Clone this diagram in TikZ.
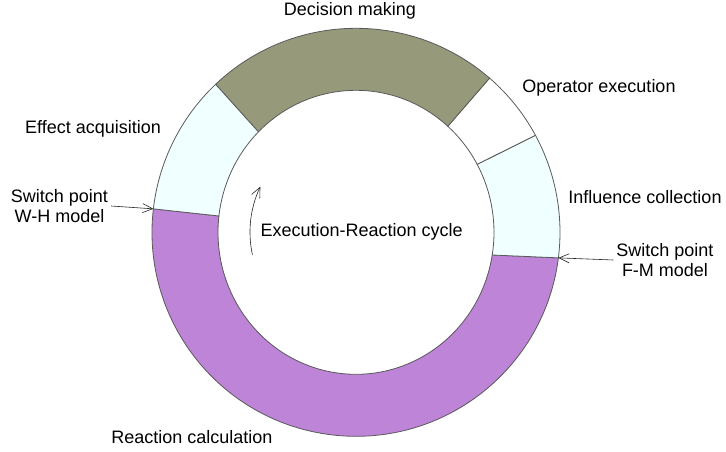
\documentclass[tikz,border=0pt]{standalone}
\usepackage{fontspec}
\setmainfont{Liberation Sans}
\usetikzlibrary{arrows.meta}
\definecolor{ringline}{HTML}{5A5A5A}
\definecolor{olive}{HTML}{969A7A}
\definecolor{lightcyan}{HTML}{F0FFFF}
\definecolor{lilac}{HTML}{BD84D8}
\newcommand\ringseg[5]{%
  \filldraw[seg, fill=#1] (#2:\R) arc[start angle=#2, end angle=#3, radius=\R]
    -- ({\rx*cos(#4)},{\ry*sin(#4)}) arc[start angle=#4, end angle=#5, x radius=\rx, y radius=\ry] -- cycle;}
\begin{document}
\begin{tikzpicture}[x=1pt,y=1pt,
  seg/.style={draw=ringline, line width=0.8pt},
  lbl/.style={font=\fontsize{18}{20}\selectfont, inner sep=3pt, align=center},
  ptr/.style={draw=black!85, line width=0.6pt, -{Straight Barb[length=10pt,width=9pt]}}]
\useasboundingbox (0,0) rectangle (726,451);
\fill[white] (0,0) rectangle (726,451);
\begin{scope}[shift={(356,218.7)}]
  \def\R{204}\def\rx{138}\def\ry{142}
  \ringseg{lilac}{173.4}{352.8}{350.8}{173.4}
  \ringseg{lightcyan}{-7.2}{28.4}{28.6}{-9.2}
  \ringseg{white}{28.4}{49.1}{48.3}{28.6}
  \ringseg{olive}{49.1}{133.5}{135}{48.3}
  \ringseg{lightcyan}{133.5}{173.4}{173.4}{135}
  \coordinate (whp) at (173.4:\R);
  \coordinate (fmp) at (-7.2:\R);
  \draw[ptr] (192.3:106) arc[start angle=192.3, end angle=154.5, radius=106];
\end{scope}
\node[lbl] (dm) at (350,440) {Decision making};
\node[lbl] (oe) at (599,363) {Operator execution};
\node[lbl] (ic) at (645,254) {Influence collection};
\node[lbl] (fm) at (665,191) {Switch point\\F-M model};
\node[lbl] (ea) at (93,322) {Effect acquisition};
\node[lbl] (wh) at (59.5,245) {Switch point\\W-H model};
\node[lbl] (rc) at (192,14) {Reaction calculation};
\node[lbl] (erc) at (361.7,219) {Execution-Reaction cycle};
\draw[ptr] (wh.east) -- (whp);
\draw[ptr] (fm.west) -- (fmp);
\end{tikzpicture}
\end{document}
